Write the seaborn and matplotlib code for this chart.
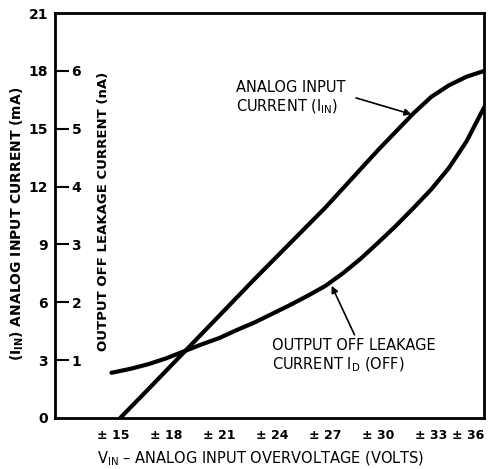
import matplotlib
matplotlib.use('Agg')
import matplotlib.pyplot as plt
import seaborn as sns
import pandas as pd

# -------------------------
# Data
# -------------------------
# Analog input current I_IN (mA) vs overvoltage (V)
iin_volts = [15.4, 17, 19, 21, 23, 25, 27, 29, 30, 31, 32, 33, 34, 35, 36]
iin_ma = [0.0, 1.5, 3.4, 5.3, 7.2, 9.05, 10.9, 12.9, 13.9, 14.85, 15.8, 16.65, 17.25, 17.7, 18.0]

# Output off leakage current I_D(OFF) (nA) vs overvoltage (V)
id_volts = [14.9, 16, 17, 18, 19, 20, 21, 22, 23, 24, 25, 26, 27, 28, 29, 30,
            31, 32, 33, 34, 35, 36]
id_na = [0.78, 0.85, 0.93, 1.03, 1.15, 1.27, 1.38, 1.52, 1.65, 1.80, 1.95, 2.11,
         2.28, 2.50, 2.75, 3.03, 3.32, 3.63, 3.95, 4.32, 4.78, 5.37]

x_ticks = [15, 18, 21, 24, 27, 30, 33, 36]
x_labels = ["± 15", "± 18", "± 21", "± 24", "± 27", "± 30", "± 33", "± 36"]
ma_ticks = [0, 3, 6, 9, 12, 15, 18, 21]
na_ticks = [1, 2, 3, 4, 5, 6]

iin_df = pd.DataFrame({"volts": iin_volts, "current": iin_ma})
id_df = pd.DataFrame({"volts": id_volts, "current": id_na})

sns.set_theme(style="white")
plt.rcParams['font.family'] = ['DejaVu Sans']
plt.rcParams['text.color'] = 'black'
plt.rcParams['axes.labelcolor'] = 'black'
plt.rcParams['xtick.color'] = 'black'
plt.rcParams['ytick.color'] = 'black'
plt.rcParams['mathtext.fontset'] = 'dejavusans'

fig = plt.figure(figsize=(4.95, 4.69), dpi=100)
ax = fig.add_axes([0.111, 0.109, 0.867, 0.863])
ax2 = ax.twinx()

sns.lineplot(data=iin_df, x="volts", y="current", ax=ax, color="black", lw=3)
sns.lineplot(data=id_df, x="volts", y="current", ax=ax2, color="black", lw=3)

ax.set_xlim(11.7, 36)
ax.set_ylim(0, 21)
ax2.set_ylim(0, 7)

for s in ax.spines.values():
    s.set_linewidth(2)
    s.set_color("black")
for s in ax2.spines.values():
    s.set_visible(False)

# x ticks: inward
ax.set_xticks(x_ticks)
ax.set_xticklabels(x_labels, fontweight="bold", fontsize=9)
ax.tick_params(axis="x", direction="in", length=7, width=1.5, pad=8)
xt = ax.get_xticklabels()
xt[-1].set_ha("right")

# main y ticks: labels only
ax.set_yticks(ma_ticks)
ax.set_yticklabels([str(v) for v in ma_ticks], fontweight="bold", fontsize=10)
ax.tick_params(axis="y", length=0, pad=5)

# secondary (nA) ticks inside the left spine
ax2.yaxis.set_ticks_position("left")
ax2.set_yticks(na_ticks)
ax2.set_yticklabels([str(v) for v in na_ticks], fontweight="bold", fontsize=10)
ax2.tick_params(axis="y", direction="in", length=10, width=1.5, pad=-12)
plt.setp(ax2.get_yticklabels(), ha="left")

ax.set_xlabel(r"V$_{\mathrm{IN}}$ – ANALOG INPUT OVERVOLTAGE (VOLTS)", fontsize=10.5)
ax.xaxis.set_label_coords(0.48, -0.078)
ax.set_ylabel(r"(I$_{\mathbf{IN}}$) ANALOG INPUT CURRENT (mA)", fontweight="bold", fontsize=10)
ax.yaxis.set_label_coords(-0.068, 0.48)
ax2.set_ylabel("")
ax.text(0.113, 0.51, "OUTPUT OFF LEAKAGE CURRENT (nA)", transform=ax.transAxes,
        rotation=90, ha="center", va="center", fontweight="bold", fontsize=9.5)

# annotations
ax.text(21.94, 16.58, r"ANALOG INPUT" "\n" r"CURRENT (I$_{\mathrm{IN}}$)",
        fontsize=10.5, va="center", ha="left")
ax.annotate("", xy=(31.89, 15.75), xytext=(28.75, 16.6),
            arrowprops=dict(arrowstyle="-|>", color="black", lw=1.2, shrinkA=0, shrinkB=0,
                            mutation_scale=10))
ax.text(24.0, 3.2, r"OUTPUT OFF LEAKAGE" "\n" r"CURRENT I$_{\mathrm{D}}$ (OFF)",
        fontsize=10.5, va="center", ha="left")
ax.annotate("", xy=(27.37, 6.85), xytext=(28.66, 4.31),
            arrowprops=dict(arrowstyle="-|>", color="black", lw=1.2, shrinkA=0, shrinkB=0,
                            mutation_scale=10))

fig.savefig("out.png", dpi=100)
